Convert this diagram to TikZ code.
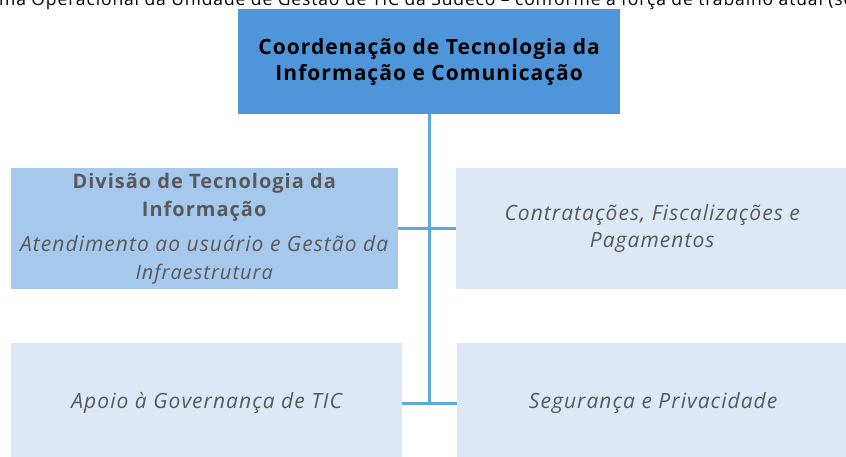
\documentclass[tikz,border=0pt]{standalone}
\usepackage{fontspec}
\setmainfont{Open Sans}[LetterSpace=5]
\usetikzlibrary{positioning}

\definecolor{azulchefe}{RGB}{79,149,217}
\definecolor{azuldiv}{RGB}{166,200,236}
\definecolor{azulclaro}{RGB}{220,232,246}
\definecolor{azullinha}{RGB}{91,168,219}
\definecolor{cinzatexto}{RGB}{89,89,89}

\begin{document}
\begin{tikzpicture}[x=1pt, y=-1pt,
    caixa/.style={rectangle, anchor=north west, inner sep=0pt, align=center},
    chefe/.style={caixa, fill=azulchefe, minimum width=382pt, minimum height=105pt,
      font=\fontsize{21}{26}\selectfont\bfseries},
    divisao/.style={caixa, fill=azuldiv, text=cinzatexto, minimum width=387pt,
      minimum height=121pt, font=\fontsize{20}{27.5}\selectfont},
    setor/.style={caixa, fill=azulclaro, text=cinzatexto, minimum height=121pt,
      font=\fontsize{21}{27}\selectfont\itshape},
    ligacao/.style={draw=azullinha, line width=3pt}]
  \useasboundingbox (0,0) rectangle (846,457);
  \clip (0,0) rectangle (846,457);

  % legenda cortada no topo
  \node[anchor=base west, inner sep=0pt, font=\fontsize{17.5}{18}\selectfont]
    (legenda) at (-1,6) {ma Operacional da Unidade de Gestão de TIC da Sudeco -- conforme a força de trabalho atual (se};

  \node[chefe]   (coord)      at (238,9)   {Coordenação de Tecnologia da\\Informação e Comunicação};
  \node[divisao] (ditic)      at (11,168)  {\textbf{Divisão de Tecnologia da}\\\textbf{Informação}\\[8pt]
    \fontsize{21}{27}\selectfont\textit{Atendimento ao usuário e Gestão da}\\\textit{Infraestrutura}};
  \node[setor, minimum width=392pt] (contratos)  at (456,168) {Contratações, Fiscalizações e\\Pagamentos};
  \node[setor, minimum width=391pt, minimum height=120pt] (governanca) at (11,343)  {Apoio à Governança de TIC};
  \node[setor, minimum width=392pt, minimum height=120pt] (seguranca)  at (457,343) {Segurança e Privacidade};

  \draw[ligacao] (coord.south) -- (coord.south |- governanca.east);
  \draw[ligacao] (ditic.east) -- (contratos.west);
  \draw[ligacao] (governanca.east) -- (seguranca.west);
\end{tikzpicture}
\end{document}
